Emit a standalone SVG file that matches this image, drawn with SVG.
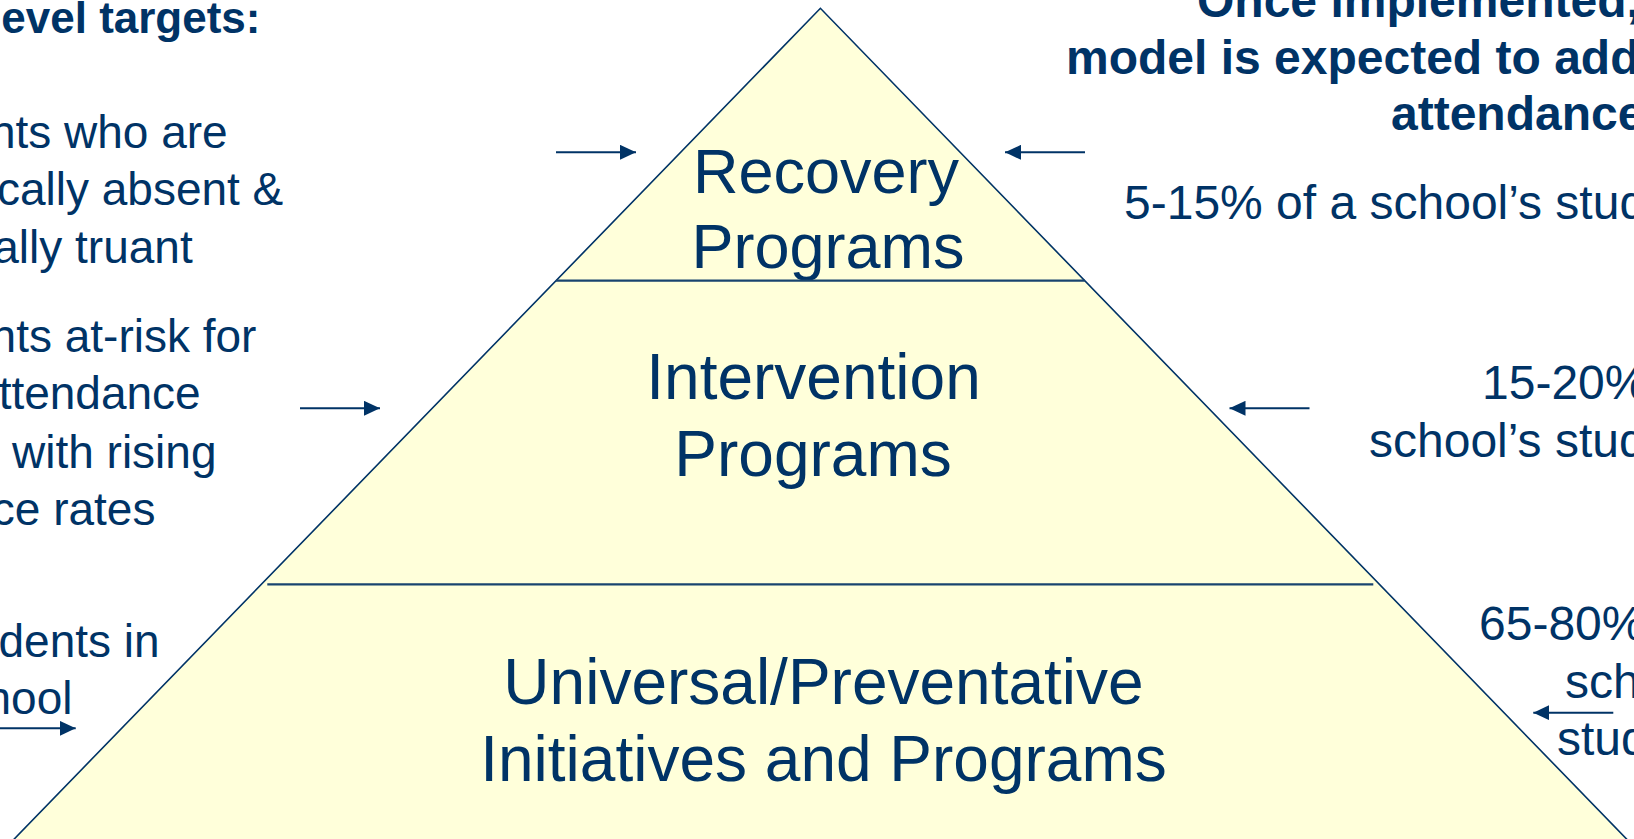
<svg xmlns="http://www.w3.org/2000/svg" width="1634" height="839" viewBox="0 0 1634 839">
  <defs>
    <style>
      .txt { font-family: "Liberation Sans", Arial, sans-serif; fill: #003366; }
      .side { font-size: 46px; }
      .sideR { font-size: 48px; }
      .head { font-size: 44px; font-weight: bold; }
      .headR { font-size: 48px; font-weight: bold; }
      .tier { font-size: 64px; text-anchor: middle; }
      .fill { fill: #FFFFDA; stroke: none; }
      .edge { fill: none; stroke: #003366; stroke-width: 1.6; }
      .divider { stroke: #18446F; stroke-width: 2.2; }
      .arrow { stroke: #003366; stroke-width: 2; fill: none; marker-end: url(#head); }
    </style>
    <marker id="head" markerUnits="userSpaceOnUse" markerWidth="16" markerHeight="15" refX="16" refY="7.5" orient="auto">
      <path d="M0,0 L16,7.5 L0,15 Z" fill="#003366"/>
    </marker>
  </defs>

  <rect width="1634" height="839" fill="#FFFFFF"/>

  <!-- pyramid tiers -->
  <g id="tier-recovery">
    <polygon class="fill" points="820.4,8.3 1084.8,280.7 556,280.7"/>
    <text class="txt tier" font-size="63" x="826" y="192.7" style="font-size:63px">Recovery</text>
    <text class="txt tier" x="828" y="268.3" style="font-size:63px">Programs</text>
  </g>

  <g id="tier-intervention">
    <polygon class="fill" points="556,280.7 1084.8,280.7 1379.4,584.3 261.4,584.3"/>
    <text class="txt tier" x="813.5" y="399.3">Intervention</text>
    <text class="txt tier" x="813" y="476">Programs</text>
  </g>

  <g id="tier-universal">
    <polygon class="fill" points="261.4,584.3 1379.4,584.3 1632.4,845 8.4,845"/>
    <text class="txt tier" x="823.5" y="704">Universal/Preventative</text>
    <text class="txt tier" x="823.5" y="780.7">Initiatives and Programs</text>
  </g>

  <!-- pyramid outline and tier dividers -->
  <g id="pyramid-outline">
    <polyline class="edge" points="8.4,845 820.4,8.3 1632.4,845"/>
    <line class="divider" x1="556" y1="280.7" x2="1084.8" y2="280.7"/>
    <line class="divider" x1="267.3" y1="584.3" x2="1373.3" y2="584.3"/>
  </g>

  <!-- left column: tier targets -->
  <g id="targets-heading">
    <text class="txt head" x="260.5" y="32.7" text-anchor="end">evel targets:</text>
  </g>
  <g id="targets-recovery">
    <text class="txt side" x="227.7" y="147.5" text-anchor="end">nts who are</text>
    <text class="txt side" x="283.3" y="205" text-anchor="end">cally absent &amp;</text>
    <text class="txt side" x="192.7" y="262.5" text-anchor="end">ally truant</text>
  </g>
  <g id="targets-intervention">
    <text class="txt side" x="256.4" y="351.5" text-anchor="end">nts at-risk for</text>
    <text class="txt side" x="200.7" y="409" text-anchor="end">ttendance</text>
    <text class="txt side" x="216.5" y="467.5" text-anchor="end">with rising</text>
    <text class="txt side" x="155.4" y="525" text-anchor="end">ce rates</text>
  </g>
  <g id="targets-universal">
    <text class="txt side" x="159.6" y="656.7" text-anchor="end">dents in</text>
    <text class="txt side" x="72.5" y="713.5" text-anchor="end">hool</text>
  </g>

  <!-- right column: expected reach -->
  <g id="reach-heading">
    <text class="txt headR" x="1197" y="16.7">Once implemented,</text>
    <text class="txt headR" x="1066" y="74">model is expected to add</text>
    <text class="txt headR" x="1391" y="130">attendance</text>
  </g>
  <g id="reach-recovery">
    <text class="txt sideR" x="1124" y="219">5-15% of a school’s stud</text>
  </g>
  <g id="reach-intervention">
    <text class="txt sideR" x="1482" y="399">15-20%</text>
    <text class="txt sideR" x="1369" y="456.7">school’s stud</text>
  </g>
  <g id="reach-universal">
    <text class="txt sideR" x="1479" y="640">65-80%</text>
    <text class="txt sideR" x="1565" y="698">sch</text>
    <text class="txt sideR" x="1557" y="755">stud</text>
  </g>

  <!-- connectors pointing at each tier -->
  <g id="connectors">
    <line class="arrow" x1="556" y1="152.3" x2="636" y2="152.3"/>
    <line class="arrow" x1="1085" y1="152.3" x2="1005" y2="152.3"/>
    <line class="arrow" x1="300" y1="408.3" x2="380" y2="408.3"/>
    <line class="arrow" x1="1309.5" y1="408.3" x2="1229.5" y2="408.3"/>
    <line class="arrow" x1="-2" y1="728.3" x2="75.7" y2="728.3"/>
    <line class="arrow" x1="1613.3" y1="712.7" x2="1533.3" y2="712.7"/>
  </g>
</svg>
